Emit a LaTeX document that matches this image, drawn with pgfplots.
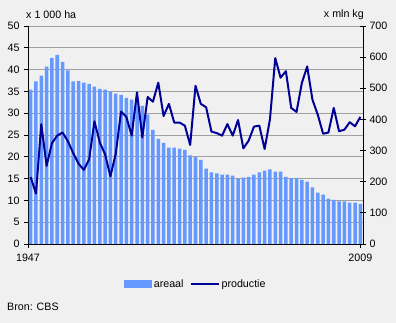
\documentclass[border=0pt]{standalone}
\usepackage{pgfplots}
\pgfplotsset{compat=1.18}
\usepackage{pgfplotstable}
\usepackage{fontspec}
\setmainfont{Liberation Sans}
\definecolor{bgcol}{RGB}{240,240,240}
\definecolor{barcol}{RGB}{102,153,255}
\definecolor{linecol}{RGB}{0,0,150}
\definecolor{gridcol}{RGB}{160,160,160}

\pgfplotstableread{
i areaal productie
0 35.4 215
1 37.3 162
2 38.6 385
3 40.7 251
4 42.7 324
5 43.4 348
6 41.8 358
7 39.8 330
8 37.3 292
9 37.4 258
10 37.0 238
11 36.7 272
12 36.1 394
13 35.6 326
14 35.4 288
15 35.0 217
16 34.5 290
17 34.2 425
18 33.5 408
19 33.1 348
20 32.5 487
21 31.7 342
22 29.7 472
23 26.2 457
24 24.1 518
25 23.2 411
26 22.1 450
27 22.1 390
28 21.9 390
29 21.6 380
30 20.3 318
31 19.9 508
32 19.3 450
33 17.3 439
34 16.4 361
35 16.2 356
36 15.9 348
37 15.9 385
38 15.7 348
39 15.0 398
40 15.2 307
41 15.4 332
42 15.9 377
43 16.4 380
44 16.8 305
45 17.1 400
46 16.6 597
47 16.6 534
48 15.4 555
49 15.1 437
50 15.1 424
51 14.7 517
52 14.3 570
53 13.0 463
54 11.8 415
55 11.3 354
56 10.4 358
57 10.1 437
58 9.8 362
59 9.8 367
60 9.5 391
61 9.5 378
62 9.2 408
}\data

\begin{document}
\begin{tikzpicture}[font=\fontsize{10.7}{12}\selectfont]
\useasboundingbox (0pt,0pt) rectangle (396pt,323pt);
\fill[bgcol] (0pt,0pt) rectangle (396pt,323pt);
\begin{axis}[
  at={(28pt,79pt)}, anchor=south west,
  width=335pt, height=218pt, scale only axis,
  xmin=-0.5, xmax=62.5, ymin=0, ymax=50,
  axis y line*=left, axis x line*=bottom,
  axis line style={black, line width=0.8pt},
  xtick={-0.5,62}, xticklabels={1947,2009},
  ytick={0,5,...,50},
  tick align=outside, major tick length=4pt,
  tick style={black, line width=0.8pt},
  ymajorgrids, grid style={gridcol, line width=0.8pt},
  /pgf/number format/assume math mode=true,
  ticklabel style={font=\fontsize{10.7}{12}\selectfont},
  yticklabel style={xshift=-1pt},
  xticklabel style={yshift=-2pt},
]
\addplot[ybar, bar width=0.66, fill=barcol, draw=none] table[x=i, y=areaal] {\data};
\end{axis}
\begin{axis}[
  at={(28pt,79pt)}, anchor=south west,
  width=335pt, height=218pt, scale only axis,
  xmin=-0.5, xmax=62.5, ymin=0, ymax=700,
  axis y line*=right, axis x line=none,
  axis line style={black, line width=0.8pt},
  ytick={0,100,...,700},
  tick align=center, major tick length=6pt,
  tick style={black, line width=0.8pt},
  /pgf/number format/assume math mode=true,
  ticklabel style={font=\fontsize{10.7}{12}\selectfont},
  legend style={at={(0.5015,-0.1835)}, anchor=center, draw=none, fill=none,
    inner sep=0pt, legend columns=2,
    nodes={inner sep=2pt, font=\fontsize{10.7}{12}\selectfont},
    /tikz/every even column/.append style={column sep=4pt}},
]
\addlegendimage{legend image code/.code={\fill[barcol] (0pt,-3.5pt) rectangle (27pt,3.5pt);}}
\addlegendentry{areaal}
\addplot[linecol, line width=2pt, line join=round, mark=none,
  legend image code/.code={\draw[linecol, line width=2pt] (0pt,0pt) -- (28pt,0pt);}]
  table[x=i, y=productie] {\data};
\addlegendentry{productie}
\end{axis}
\node[anchor=west, inner sep=0pt] at (26pt,308pt) {x 1 000 ha};
\node[anchor=east, inner sep=0pt] at (364pt,308pt) {x mln kg};
\node[anchor=west, inner sep=0pt] at (7pt,16pt) {Bron: CBS};
\end{tikzpicture}
\end{document}
